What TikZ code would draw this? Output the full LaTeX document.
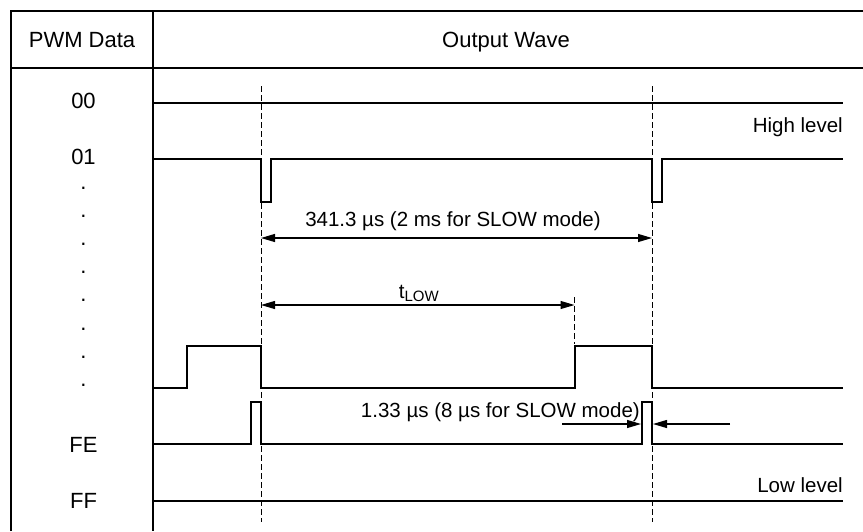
\documentclass[tikz,border=0pt]{standalone}
\usepackage{fontspec}
\setmainfont{Liberation Sans}
\usetikzlibrary{arrows.meta}
\begin{document}
\begin{tikzpicture}[x=1pt,y=-1pt,
  frame/.style={line width=1.1pt,black},
  wave/.style={line width=2.3pt,black,line join=miter},
  guide/.style={line width=0.8pt,dash pattern=on 5.5pt off 3.5pt},
  dim/.style={line width=1.1pt,-{Triangle[length=14pt,width=8pt]}},
  big/.style={inner sep=0pt,anchor=base,font=\fontsize{22}{26}\selectfont},
  small/.style={inner sep=0pt,anchor=base,font=\fontsize{20.5}{24}\selectfont}]
\useasboundingbox (0,0) rectangle (863,531);
% frame
\draw[frame] (11,531) -- (11,11) -- (863,11);
\draw[frame] (11,68) -- (863,68);
\draw[frame] (153,11) -- (153,531);
% headers
\node[big] (hpwm) at (82,47) {PWM Data};
\node[big] (hout) at (506,47) {Output Wave};
% row labels
\node[big] (l00) at (83.5,108) {00};
\node[big] (l01) at (83.5,164) {01};
\foreach \i/\yy in {1/188,2/216,3/244,4/272,5/300,6/329,7/357,8/385}
  \node[big] (dot\i) at (83.5,\yy+1.2) {.};
\node[big] (lfe) at (83.5,452) {FE};
\node[big] (lff) at (83.5,508) {FF};
% guides
\draw[guide] (261,86) -- (261,522);
\draw[guide] (652,86) -- (652,522);
\draw[guide] (574.5,297) -- (574.5,344);
% waves
\draw[wave] (153,103) -- (843,103);
\draw[wave] (153,159) -- (261,159) -- (261,202) -- (271,202) -- (271,159)
  -- (652,159) -- (652,202) -- (662,202) -- (662,159) -- (843,159);
\draw[wave] (153,388) -- (187,388) -- (187,346) -- (261,346) -- (261,388)
  -- (575,388) -- (575,346) -- (652,346) -- (652,388) -- (843,388);
\draw[wave] (153,444) -- (251,444) -- (251,402) -- (261,402) -- (261,444)
  -- (642,444) -- (642,402) -- (652,402) -- (652,444) -- (843,444);
\draw[wave] (153,501) -- (843,501);
% labels
\node[small,anchor=base east] (hl) at (843,132) {High level};
\node[small,anchor=base east] (ll) at (843,492) {Low level};
\node[small] (per) at (453,226) {341.3 µs (2 ms for SLOW mode)};
\node[small] (tlow) at (419,298) {t\textsubscript{\fontsize{15}{18}\selectfont LOW}};
\node[small,anchor=base east] (pw) at (640,417) {1.33 µs (8 µs for SLOW mode)};
% dimension arrows
\coordinate (pa) at (261,238); \coordinate (pb) at (652,238);
\draw[dim] (453,238) -- (pa);
\draw[dim] (453,238) -- (pb);
\coordinate (ta) at (261,305); \coordinate (tb) at (574.5,305);
\draw[dim] (417,305) -- (ta);
\draw[dim] (417,305) -- (tb);
\coordinate (wa0) at (562,424); \coordinate (wa1) at (641,424);
\coordinate (wb0) at (730,424); \coordinate (wb1) at (653,424);
\draw[dim] (wa0) -- (wa1);
\draw[dim] (wb0) -- (wb1);
\end{tikzpicture}
\end{document}
